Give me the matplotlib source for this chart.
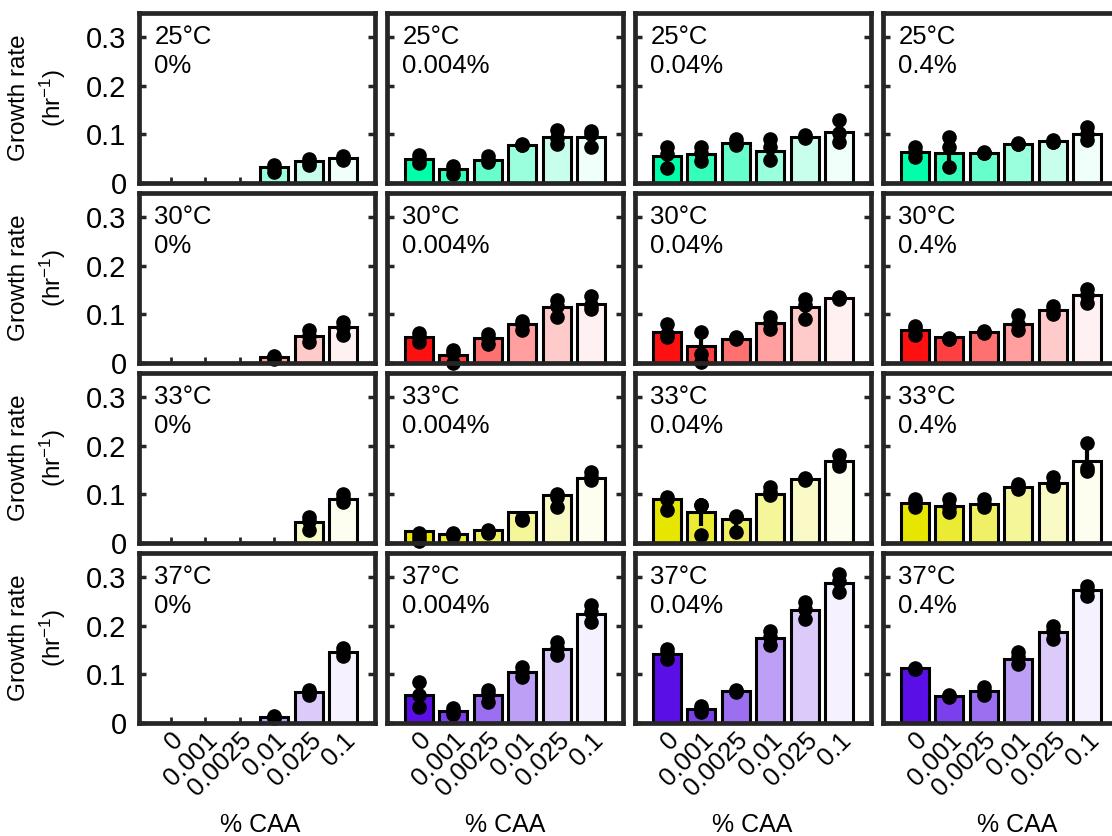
import numpy as np
import matplotlib
matplotlib.use('Agg')
from matplotlib import pyplot as plt
from matplotlib.colors import to_rgb

plt.rcParams['font.family'] = ['Liberation Sans', 'DejaVu Sans']
plt.rcParams['mathtext.fontset'] = 'custom'
plt.rcParams['mathtext.rm'] = 'Liberation Sans'
plt.rcParams['mathtext.it'] = 'Liberation Sans'

# ---------------- data ----------------
temps = ['25°C', '30°C', '33°C', '37°C']
caa_cond = ['0%', '0.004%', '0.04%', '0.4%']
caa_x = ['0', '0.001', '0.0025', '0.01', '0.025', '0.1']

# bar heights: [condition column][x position]
rate_25 = [[0, 0.001, 0, 0.032, 0.045, 0.052],
           [0.050, 0.028, 0.048, 0.079, 0.094, 0.095],
           [0.055, 0.060, 0.082, 0.066, 0.095, 0.105],
           [0.064, 0.062, 0.062, 0.081, 0.087, 0.101]]
rate_30 = [[0, 0, 0, 0.012, 0.055, 0.074],
           [0.053, 0.016, 0.052, 0.081, 0.115, 0.122],
           [0.064, 0.034, 0.050, 0.082, 0.115, 0.134],
           [0.068, 0.053, 0.064, 0.081, 0.110, 0.139]]
rate_33 = [[0, 0, 0, 0, 0.043, 0.091],
           [0.025, 0.018, 0.027, 0.064, 0.099, 0.134],
           [0.091, 0.064, 0.050, 0.100, 0.132, 0.168],
           [0.082, 0.077, 0.081, 0.115, 0.123, 0.168]]
rate_37 = [[0, 0, 0, 0.012, 0.064, 0.146],
           [0.058, 0.025, 0.057, 0.105, 0.153, 0.225],
           [0.142, 0.029, 0.066, 0.175, 0.233, 0.288],
           [0.113, 0.055, 0.066, 0.132, 0.188, 0.273]]

# replicate points
pts_25 = [[[], [], [], [0.038, 0.030, 0.023], [0.050, 0.043, 0.037], [0.055, 0.051, 0.048]],
          [[0.058, 0.050, 0.042], [0.036, 0.028, 0.019], [0.055, 0.048, 0.043], [0.080, 0.079, 0.078], [0.110, 0.092, 0.081], [0.108, 0.100, 0.075]],
          [[0.074, 0.060, 0.030], [0.074, 0.062, 0.045], [0.091, 0.082, 0.078], [0.091, 0.074, 0.047], [0.098, 0.095, 0.093], [0.129, 0.103, 0.084]],
          [[0.075, 0.064, 0.053], [0.095, 0.074, 0.033], [0.063, 0.062, 0.061], [0.083, 0.081, 0.080], [0.088, 0.085, 0.084], [0.116, 0.100, 0.088]]]
pts_30 = [[[], [], [], [0.015, 0.012, 0.009], [0.068, 0.055, 0.043], [0.084, 0.075, 0.057]],
          [[0.062, 0.053, 0.043], [0.026, 0.020, 0.000], [0.060, 0.052, 0.040], [0.086, 0.080, 0.067], [0.130, 0.118, 0.095], [0.137, 0.120, 0.112]],
          [[0.081, 0.060, 0.053], [0.064, 0.019, 0.002], [0.053, 0.051, 0.049], [0.095, 0.082, 0.071], [0.132, 0.120, 0.091], [0.136, 0.134, 0.132]],
          [[0.077, 0.070, 0.057], [0.052, 0.050, 0.049], [0.066, 0.064, 0.062], [0.098, 0.080, 0.067], [0.118, 0.110, 0.101], [0.153, 0.140, 0.123]]]
pts_33 = [[[], [], [], [], [0.053, 0.045, 0.026], [0.101, 0.092, 0.084]],
          [[0.020, 0.012, 0.005], [0.020, 0.018, 0.015], [0.026, 0.023, 0.021], [0.052, 0.050, 0.048], [0.101, 0.095, 0.074], [0.146, 0.135, 0.129]],
          [[0.095, 0.090, 0.067], [0.079, 0.078, 0.016], [0.055, 0.053, 0.023], [0.115, 0.105, 0.098], [0.134, 0.132, 0.130], [0.182, 0.165, 0.158]],
          [[0.091, 0.085, 0.075], [0.091, 0.075, 0.064], [0.091, 0.080, 0.074], [0.121, 0.117, 0.112], [0.136, 0.122, 0.118], [0.205, 0.155, 0.148]]]
pts_37 = [[[], [], [], [0.014, 0.012, 0.010], [0.068, 0.064, 0.058], [0.155, 0.146, 0.137]],
          [[0.084, 0.058, 0.033], [0.030, 0.025, 0.019], [0.068, 0.060, 0.043], [0.115, 0.105, 0.095], [0.166, 0.155, 0.139], [0.242, 0.228, 0.208]],
          [[0.153, 0.145, 0.132], [0.036, 0.030, 0.023], [0.068, 0.066, 0.064], [0.190, 0.178, 0.160], [0.249, 0.235, 0.214], [0.307, 0.292, 0.269]],
          [[0.114, 0.112, 0.111], [0.057, 0.055, 0.054], [0.074, 0.066, 0.057], [0.146, 0.135, 0.122], [0.199, 0.190, 0.173], [0.283, 0.273, 0.262]]]

rates = [rate_25, rate_30, rate_33, rate_37]
points = [pts_25, pts_30, pts_33, pts_37]

# ---------------- styles ----------------
base_colors = ['#00FFAA', '#FF1010', '#E6E600', '#5A0FE6']
white_mix = [0.0, 0.2, 0.4, 0.6, 0.78, 0.94]
frame_col = '#262626'


def shade(c, f):
    c = np.array(to_rgb(c))
    return tuple(c + (1 - c) * f)


W, H = 1112, 836
fig = plt.figure(figsize=(W / 100, H / 100), dpi=100)
lefts = [139, 387, 635, 883]
tops = [13, 193, 373, 553]
pw, ph = 236, 170
xlab_pos = [260, 505, 752, 1017]

x = np.arange(1, 7)
for r in range(4):
    for c in range(4):
        ax = fig.add_axes([lefts[c] / W, 1 - (tops[r] + ph) / H, pw / W, ph / H])
        cols = [shade(base_colors[r], f) for f in white_mix]
        h = rates[r][c]
        ax.bar(x, h, width=0.82, color=cols, edgecolor='black', linewidth=2.2, zorder=2)
        for i in range(6):
            p = points[r][c][i]
            if len(p) == 0:
                continue
            if len(p) > 1:
                sd = np.std(p)
                ax.plot([x[i], x[i]], [h[i] - sd, h[i] + sd], color='black', lw=3, zorder=3,
                        solid_capstyle='butt')
            ax.plot([x[i]] * len(p), p, 'o', color='black', ms=9.5, zorder=4, clip_on=False)
        ax.set_xlim(0.08, 6.92)
        ax.set_ylim(0, 0.35)
        ax.set_yticks([0, 0.1, 0.2, 0.3])
        ax.set_xticks(x)
        for s in ax.spines.values():
            s.set_linewidth(3.4)
            s.set_color(frame_col)
            s.set_zorder(5)
        ax.tick_params(axis='y', direction='in', left=True, right=True, length=5, width=2.5,
                       color=frame_col, labelsize=21, pad=9)
        ax.tick_params(axis='x', direction='in', bottom=True, length=4, width=2,
                       color=frame_col, labelsize=18.5)
        if c == 0:
            ax.set_yticklabels(['0', '0.1', '0.2', '0.3'])
            fig.text(38 / W, 1 - (tops[r] + ph / 2) / H, 'Growth rate\n(hr$^{-1}$)',
                     rotation=90, ha='center', va='center', fontsize=17.5,
                     multialignment='center', linespacing=1.35)
        else:
            ax.set_yticklabels([])
        if r == 3:
            ax.set_xticklabels(caa_x, rotation=45, ha='right', va='top', rotation_mode='anchor')
            fig.text(xlab_pos[c] / W, 1 - 825 / H, '% CAA', ha='center', va='center',
                     fontsize=18)
        else:
            ax.set_xticklabels([])
        ax.text(0.065, 0.93, temps[r] + '\n' + caa_cond[c], transform=ax.transAxes,
                ha='left', va='top', fontsize=18.5, linespacing=1.25, zorder=6)

fig.savefig('out.png', dpi=100)
